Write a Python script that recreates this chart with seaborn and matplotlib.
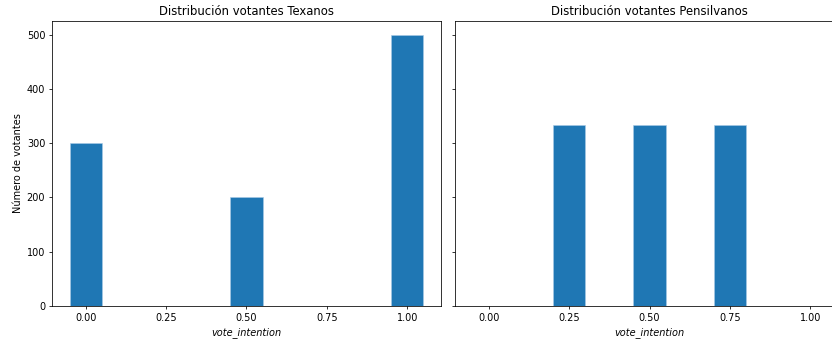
import numpy as np
import pandas as pd
import matplotlib
matplotlib.use("Agg")
import matplotlib.pyplot as plt
import seaborn as sns

# Vote intention values and voter counts per state
texas_values = [0.0, 0.5, 1.0]
texas_counts = [300, 200, 500]
penn_values = [0.25, 0.5, 0.75]
penn_counts = [333, 334, 333]

titles = ["Distribución votantes Texanos", "Distribución votantes Pensilvanos"]
BAR_W = 0.1


def voters(values, counts):
    """One row per voter, so histplot counts them."""
    return pd.DataFrame({"vote_intention": np.repeat(values, counts)})


def edges(values):
    """Bin edges of width BAR_W centred on each observed value."""
    e = []
    for v in values:
        e += [v - BAR_W / 2, v + BAR_W / 2]
    return e


DPI = 70
fig = plt.figure(figsize=(832 / DPI, 345 / DPI), dpi=DPI)
ax1 = fig.add_axes([52 / 832, 1 - 306 / 345, 389 / 832, 285 / 345])
ax2 = fig.add_axes([455 / 832, 1 - 306 / 345, 389 / 832, 285 / 345],
                   sharex=ax1, sharey=ax1)

panels = [(ax1, texas_values, texas_counts, titles[0]),
          (ax2, penn_values, penn_counts, titles[1])]
for ax, vals, cnts, title in panels:
    sns.histplot(data=voters(vals, cnts), x="vote_intention",
                 bins=edges(vals), color="#1f77b4", alpha=1,
                 edgecolor="#a9cbe6", linewidth=0.6, ax=ax)
    # drop the empty gap bins between the observed values
    for p in ax.patches:
        if p.get_height() == 0:
            p.set_visible(False)
    ax.set_title(title)
    ax.set_xlabel("vote_intention", style="italic")

ax1.set_ylabel("Número de votantes")
ax2.set_ylabel("")
ax2.tick_params(labelleft=False)
ax1.set_xticks([0, 0.25, 0.5, 0.75, 1.0])
ax1.set_xlim(-0.105, 1.105)
ax1.set_ylim(0, 525)

fig.savefig("out.png", dpi=DPI)
